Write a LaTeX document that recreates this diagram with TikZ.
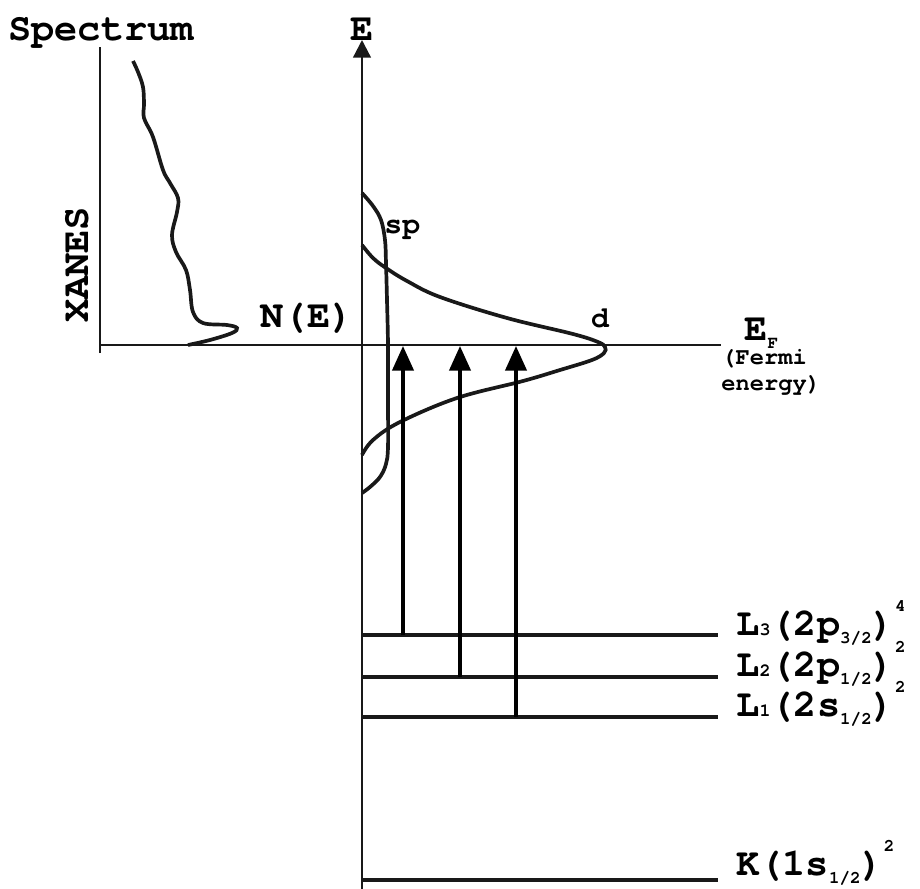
\documentclass[tikz,border=0pt]{standalone}
\usepackage{fontspec}
\usepackage{tikz}
\usetikzlibrary{
    positioning,
    arrows.meta,
    calc
}
\newfontfamily\courfont{texgyrecursor-bold.otf}
\newcommand{\idx}[1]{{\fontsize{10.5}{10.5}\selectfont #1}}
\newcommand{\lsub}[1]{\raisebox{-0.22em}{\fontsize{10}{10}\selectfont #1}}
\newcommand{\lsup}[1]{\raisebox{0.6em}{\fontsize{10}{10}\selectfont #1}}

\begin{document}
\begin{tikzpicture}[x=0.02cm, y=-0.02cm,
    biglab/.style={font=\courfont\fontsize{22}{22}\selectfont, inner sep=0pt},
    midlab/.style={font=\courfont\fontsize{17}{17}\selectfont, inner sep=0pt},
    smalllab/.style={font=\courfont\fontsize{13.5}{15}\selectfont, inner sep=0pt, align=left},
    axis/.style={line width=1.3pt, draw=black!90},
    level/.style={line width=1.9pt, draw=black!90},
    curve/.style={line width=2.1pt, draw=black!90, smooth, tension=0.6},
    excite/.style={-{Triangle[length=14pt, width=12pt]}, line width=2.1pt}]

    \useasboundingbox (0,0) rectangle (920,889);

    % Axes
    \coordinate (Ebot) at (362,889);
    \coordinate (Etop) at (362,40);
    \coordinate (Sbot) at (100,353);
    \coordinate (Stop) at (100,47);
    \coordinate (Fleft) at (100,345);
    \coordinate (Fright) at (721,345);
    \draw[axis, -{Triangle[length=10pt, width=10pt]}] (Ebot) to (Etop);
    \draw[axis] (Sbot) to (Stop);
    \draw[axis] (Fleft) to (Fright);

    \node[biglab, anchor=base] (Elab) at (362,40) {E};
    \node[biglab, anchor=base west] (Spec) at (8,40) {Spectrum};
    \node[biglab, anchor=base, rotate=90] (Xanes) at (88,265) {XANES};
    \node[biglab, anchor=base] (NE) at (307,327) {N(E)};

    % XANES spectrum
    \draw[curve] plot coordinates {(133,61) (138,72) (143,87) (144,104) (144,118)
      (153,137) (163,170) (170,183) (178,198) (177,212) (172,235) (176,252)
      (186,270) (190,290) (193,312) (203,323) (227,325) (237,328) (232,333)
      (210,340) (188,345)};

    % Density of states
    \draw[curve] plot coordinates {(362,193) (373,206) (381,220) (385,240)
      (386,263) (387,300) (388,345) (388,400) (388,447) (386,464) (380,477)
      (370,487) (362,493)};
    \draw[curve] plot coordinates {(362,245) (373,258) (386,268) (407,281)
      (440,297) (507,318) (573,334) (598,342) (605,347) (604,353) (592,360)
      (560,370) (523,381) (457,398) (400,422) (373,440) (362,455)};
    \node[midlab, anchor=base west] (sp) at (384,233) {sp};
    \node[midlab, anchor=base] (dlab) at (600,327) {d};

    % Fermi level
    \node[biglab, anchor=base west] (EF) at (744,340) {E\lsub{F}};
    \node[smalllab, anchor=north west] (Fermi) at (721,349) {(Fermi\\energy)};

    % Core levels
    \foreach \n/\ypos/\yb/\txt in {L3/635/635/{L\idx{3}(2p\lsub{3/2})\lsup{4}},
                                   L2/677/676/{L\idx{2}(2p\lsub{1/2})\lsup{2}},
                                   L1/717/716/{L\idx{1}(2s\lsub{1/2})\lsup{2}},
                                   K/880/875/{K(1s\lsub{1/2})\lsup{2}}}{
      \coordinate (\n a) at (362,\ypos);
      \coordinate (\n b) at (718,\ypos);
      \draw[level] (\n a) to (\n b);
      \node[biglab, anchor=base west] (\n lab) at (736,\yb) {\txt};
    }

    % Transitions to the Fermi level
    \foreach \n/\xpos/\ypos in {L3/403/635, L2/460/677, L1/516/717}{
      \coordinate (\n s) at (\xpos,\ypos);
      \coordinate (\n t) at (\xpos,346);
      \draw[excite] (\n s) to (\n t);
    }

\end{tikzpicture}
\end{document}
